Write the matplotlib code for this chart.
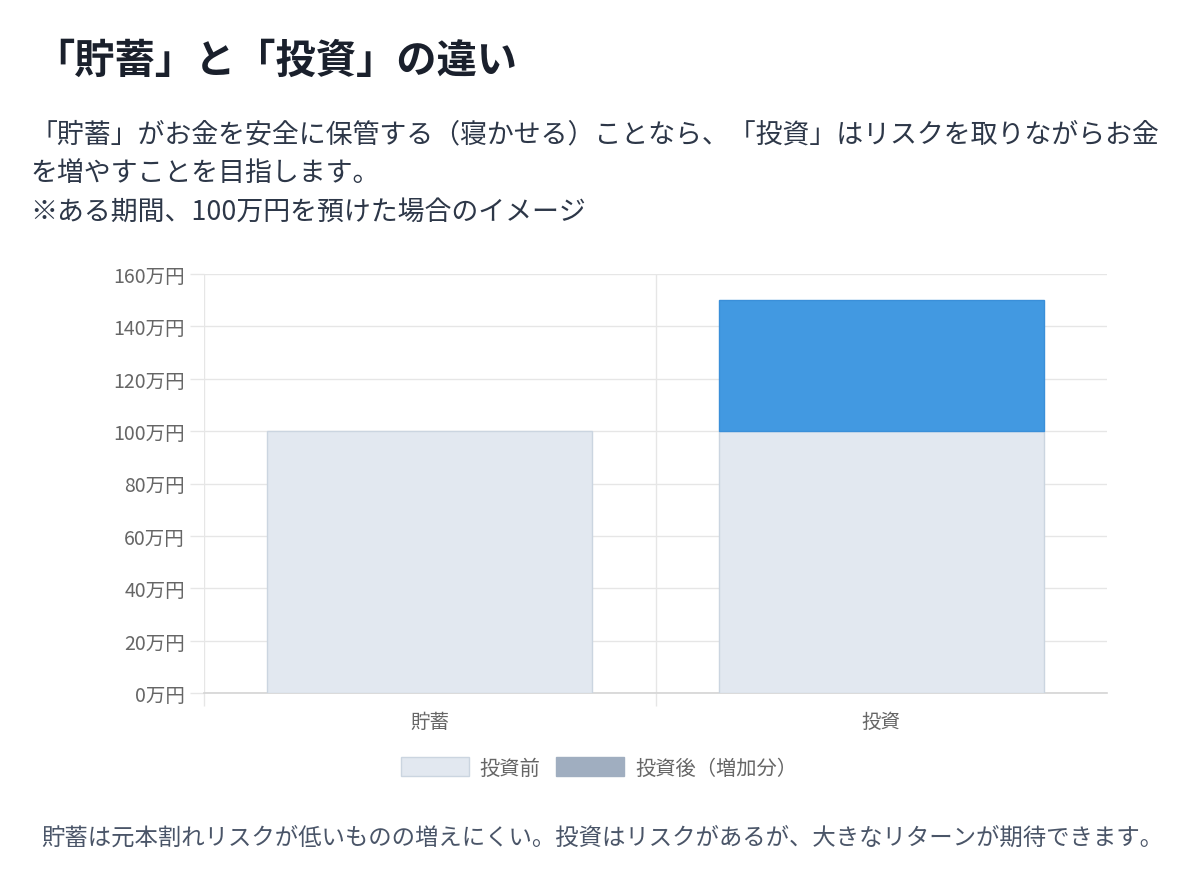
import matplotlib
matplotlib.use("Agg")
import matplotlib.pyplot as plt
from matplotlib.patches import Rectangle

plt.rcParams['font.family'] = ['Noto Sans CJK JP', 'DejaVu Sans']

categories = ["貯蓄", "投資"]
before = [100, 100]
growth = [0, 50]
y_ticks = [0, 20, 40, 60, 80, 100, 120, 140, 160]
y_tick_labels = [f"{v}万円" for v in y_ticks]
legend_labels = ["投資前", "投資後（増加分）"]
title = "「貯蓄」と「投資」の違い"
subtitle_lines = [
    "「貯蓄」がお金を安全に保管する（寝かせる）ことなら、「投資」はリスクを取りながらお金",
    "を増やすことを目指します。",
    "※ある期間、100万円を預けた場合のイメージ",
]
footer = "貯蓄は元本割れリスクが低いものの増えにくい。投資はリスクがあるが、大きなリターンが期待できます。"

W, H = 1200, 870
fig = plt.figure(figsize=(W / 100, H / 100), dpi=100)
fig.patch.set_facecolor("white")

def fx(px):
    return px / W

def fy(py):
    return 1 - py / H

fig.text(fx(34), fy(61), title, fontsize=29, fontweight="bold", color="#1a202c",
         va="center", ha="left")
for i, line in enumerate(subtitle_lines):
    fig.text(fx(30), fy(135 + 38.5 * i), line, fontsize=19.4, color="#2d3748",
             va="center", ha="left")
fig.text(fx(41), fy(838), footer, fontsize=16.85, color="#4a5568", va="center", ha="left")

left, right, top, bottom = 204, 1107, 275, 694
ax = fig.add_axes([fx(left), fy(bottom), fx(right - left), (bottom - top) / H])

x = list(range(len(categories)))
ax.bar(x, before, width=0.72, color="#e2e8f0", edgecolor="#cbd5e0", linewidth=1, zorder=3)
gx = [xi for xi, g in zip(x, growth) if g > 0]
gv = [g for g in growth if g > 0]
gb = [b for b, g in zip(before, growth) if g > 0]
ax.bar(gx, gv, bottom=gb, width=0.72, color="#4299e1", edgecolor="#3a8fd9",
       linewidth=1, zorder=3)

ax.set_xlim(-0.5, len(categories) - 0.5)
ax.set_ylim(0, 160)
ax.set_yticks(y_ticks)
ax.set_yticklabels(y_tick_labels)
ax.set_xticks(x)
ax.set_xticklabels(categories)
ax.set_xticks([-0.5, 0.5], minor=True)

for s in ["top", "right", "left"]:
    ax.spines[s].set_visible(False)
ax.spines["bottom"].set_color("#d4d4d4")
ax.spines["bottom"].set_linewidth(1.2)

ax.grid(axis="y", color="#e6e6e6", linewidth=1, zorder=0)
for xv in [-0.5, 0.5]:
    ax.axvline(xv, color="#e6e6e6", linewidth=1, zorder=0)

ax.tick_params(axis="y", length=10, width=1, color="#e6e6e6", labelsize=14,
               labelcolor="#666666", pad=3.6)
ax.tick_params(axis="x", which="major", length=0, labelsize=14, labelcolor="#666666", pad=13)
ax.tick_params(axis="x", which="minor", length=9.4, width=1, color="#e6e6e6")

# legend
handles = [Rectangle((0, 0), 1, 1, facecolor="#e2e8f0", edgecolor="#cbd5e0"),
           Rectangle((0, 0), 1, 1, facecolor="#a0aec0", edgecolor="#a0aec0")]
fig.legend(handles, legend_labels, loc="center", bbox_to_anchor=(fx(599), fy(769)),
           ncol=2, frameon=False, fontsize=14.6, labelcolor="#666666",
           handlelength=3.35, handleheight=1.08, handletextpad=0.54, columnspacing=0.8,
           borderpad=0, borderaxespad=0)

fig.savefig("out.png", dpi=100, facecolor="white")
